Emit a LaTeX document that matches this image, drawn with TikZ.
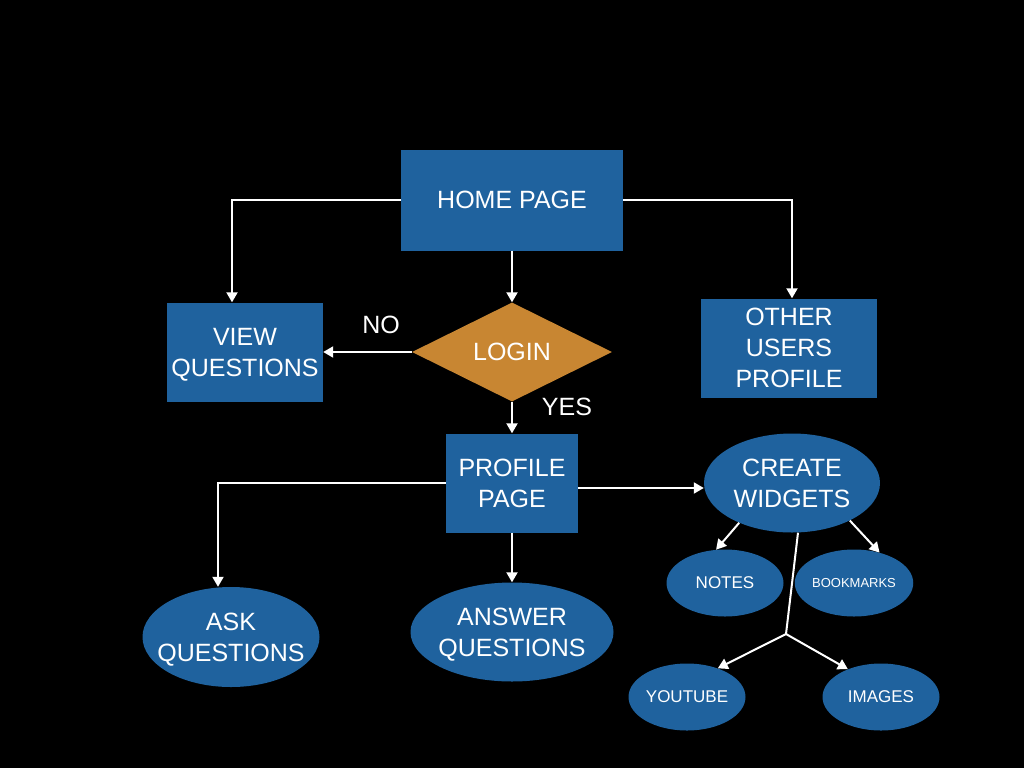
\documentclass[tikz,border=0pt]{standalone}
\usepackage{fontspec}
\setmainfont{Liberation Sans}
\usetikzlibrary{shapes.geometric,arrows.meta}
\definecolor{boxblue}{RGB}{31,98,158}
\definecolor{loginorange}{RGB}{200,134,50}
\begin{document}
\begin{tikzpicture}[x=1pt, y=-1pt,
   every node/.style={text=white, font=\fontsize{25}{31}\selectfont, align=center},
   page/.style={rectangle, fill=boxblue, inner sep=0pt},
   choice/.style={diamond, fill=loginorange, inner sep=0pt,
                  minimum width=200pt, minimum height=99pt},
   bubble/.style={ellipse, fill=boxblue, inner sep=-15pt},
   widget/.style={ellipse, fill=boxblue, inner sep=0pt,
                  minimum width=117pt, minimum height=67pt,
                  font=\fontsize{17}{20}\selectfont},
   lowered/.style={text depth=-6pt},
   link/.style={draw=white, line width=2pt, -{Triangle[width=11pt,length=10pt]}}]

\fill[black] (0,0) rectangle (1024,768);

\node[page, minimum width=222pt, minimum height=101pt, yshift=0pt] (home) at (512,200) {HOME PAGE};
\node[page, lowered, minimum width=156pt, minimum height=99pt] (view) at (245,352) {VIEW\\QUESTIONS};
\node[choice] (login) at (512,352) {LOGIN};
\node[page, lowered, minimum width=176pt, minimum height=99pt] (other) at (789,348) {OTHER\\USERS\\PROFILE};
\node[page, lowered, minimum width=132pt, minimum height=99pt] (profile) at (512,483) {PROFILE\\PAGE};
\node[bubble, lowered, minimum width=176pt, minimum height=99pt] (create) at (792,483) {CREATE\\WIDGETS};
\node[bubble, lowered, minimum width=177pt, minimum height=100pt] (ask) at (231,637) {ASK\\QUESTIONS};
\node[bubble, lowered, minimum width=203pt, minimum height=99pt] (answer) at (512,632) {ANSWER\\QUESTIONS};
\node[widget] (notes) at (725,583) {NOTES};
\node[widget, font=\fontsize{13}{16}\selectfont] (bookmarks) at (854,583) {BOOKMARKS};
\node[widget] (youtube) at (687,697) {YOUTUBE};
\node[widget] (images) at (881,697) {IMAGES};
\node (no) at (381,325) {NO};
\node (yes) at (567,407) {YES};
\coordinate (split) at (786,634);

\draw[link] (home.west) -| ([xshift=-13pt]view.north);
\draw[link] (home.east) -| ([xshift=3pt]other.north);
\draw[link] (home) -- (login);
\draw[link] (login) -- (view);
\draw[link] (login) -- (profile);
\draw[link] (profile.west) -| ([xshift=-13pt]ask.north);
\draw[link] (profile) -- (answer);
\draw[link] ([yshift=-5pt]profile.east) -- ([yshift=-5pt]create.west);
\draw[link] (create.217) -- (notes.105);
\draw[link] (create.327) -- (bookmarks.50);
\draw[white, line width=2pt] ([xshift=6pt]create.south) -- (split);
\draw[link] (split) -- (youtube.43);
\draw[link] (split) -- (images.140);

\end{tikzpicture}
\end{document}
